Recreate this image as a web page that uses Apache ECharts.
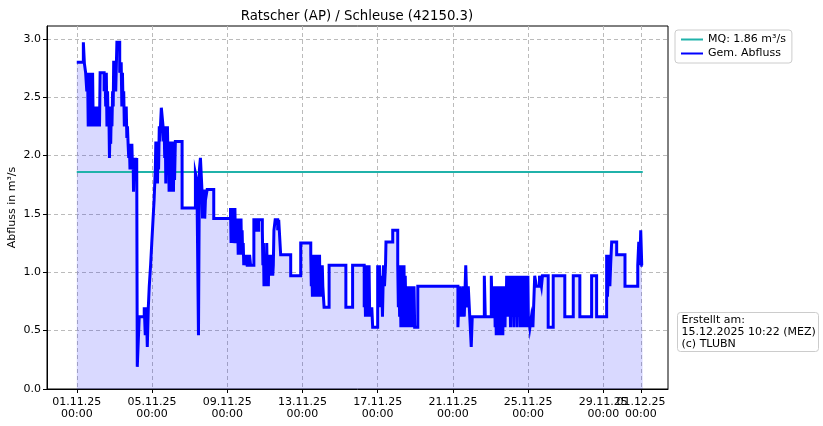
<!DOCTYPE html>
<html>
<head>
<meta charset="utf-8">
<script src="https://cdn.jsdelivr.net/npm/echarts@6/dist/echarts.min.js"></script>
<style>
html,body{margin:0;padding:0;background:#fff;}
#chart{width:823px;height:426px;}
</style>
</head>
<body>
<div id="chart"></div>
<script>
// hours since 01.11.25 00:00 at which each measured value begins
const stepHours = [
0,8.4,9.7,11.3,12.8,13.8,14.6,15.4,16.2,17.0,
17.8,18.6,19.4,20.2,21.0,21.8,22.6,23.4,24.2,25.0,
25.8,26.6,27.4,28.2,29.0,29.8,34.9,36.0,36.9,37.7,
38.5,39.3,40.1,40.9,41.7,42.5,43.3,44.1,44.9,45.7,
46.5,47.1,49.7,51.2,54.8,56.7,57.5,58.3,59.1,59.9,
60.7,61.5,62.3,63.1,63.9,64.7,65.5,66.3,67.1,67.9,
68.7,69.5,70.3,71.1,71.9,72.4,73.4,74.2,75.0,75.8,
76.5,77.2,79.7,86.1,87.4,88.7,90.0,91.3,92.5,94.2,
95.7,97.3,98.7,100.2,100.9,101.6,102.3,103.0,103.7,104.4,
105.3,106.1,106.8,107.9,110.1,110.8,111.5,112.2,112.9,113.6,
114.3,115.0,115.7,116.4,117.1,117.8,118.5,119.2,119.9,120.6,
121.3,122.0,122.7,123.4,124.1,124.8,125.8,134.4,151.4,153.3,
155.3,156.5,157.8,159.7,160.5,161.2,161.9,162.6,163.3,164.2,
166.4,174.8,196.2,196.9,197.6,198.3,199.0,199.7,200.4,201.1,
201.8,202.5,203.2,203.9,204.6,205.3,206.0,206.8,207.5,208.2,
208.9,209.6,210.3,211.0,211.7,212.4,213.1,213.8,214.5,215.4,
216.1,216.8,217.5,220.5,221.8,226.0,229.5,232.1,236.8,237.5,
238.2,238.9,239.6,240.3,241.0,241.7,242.4,243.1,243.8,244.5,
245.2,245.9,246.6,247.3,248.0,248.7,249.4,250.1,250.8,251.6,
253.2,256.4,257.7,260.2,273.0,285.8,298.6,299.3,300.0,300.7,
301.4,302.1,302.8,303.5,304.2,304.9,305.6,306.3,307.0,307.7,
308.4,309.1,309.8,310.5,311.2,311.9,312.6,313.3,314.0,315.6,
322.0,343.4,352.0,366.8,367.5,368.4,369.2,369.9,370.6,371.5,
372.2,373.0,373.8,374.6,375.5,376.5,377.6,384.0,385.0,386.3,
387.6,388.9,390.1,391.4,392.7,394.0,394.6,403.2,409.6,410.4,
411.2,412.0,412.8,413.6,414.4,415.2,416.0,416.8,417.6,418.4,
419.2,420.0,420.8,421.6,422.4,423.2,424.0,424.8,425.6,426.4,
427.2,428.0,428.8,429.6,430.4,431.2,432.0,435.2,486.4,488.4,
490.6,492.5,494.5,496.4,498.0,499.6,501.5,503.4,504.7,520.1,
521.3,529.0,530.3,533.2,533.9,534.6,535.3,536.0,536.7,537.4,
538.1,538.8,539.5,540.2,540.9,541.6,542.3,543.0,543.7,544.4,
545.1,545.8,546.5,547.2,547.9,548.6,549.3,550.0,550.7,551.4,
552.1,552.8,553.5,554.2,554.9,555.6,556.3,557.0,557.7,558.4,
559.1,559.8,560.5,561.2,561.9,562.6,563.3,564.0,564.7,565.4,
566.1,566.8,567.5,568.2,568.9,569.6,570.3,571.0,571.6,572.9,
573.6,574.3,575.0,575.7,576.4,577.1,578.3,580.2,582.1,584.4,
586.6,590.5,593.0,594.3,601.6,608.0,622.8,633.6,642.0,657.0,
663.4,676.2,677.2,678.3,679.3,680.3,681.3,682.6,689.0,699.6,
715.9,717.2,718.5,719.7,721.0,722.3
];
// measured discharge (m³/s), one per entry of stepHours
const flowValues = [
2.80,2.97,2.79,2.71,2.55,2.71,2.25,2.71,2.25,2.71,
2.25,2.55,2.25,2.71,2.25,2.42,2.25,2.42,2.25,2.42,
2.25,2.42,2.25,2.34,2.25,2.71,2.55,2.71,2.42,2.71,
2.25,2.55,2.25,2.42,1.98,2.25,2.10,2.42,2.25,2.55,
2.42,2.80,2.55,2.97,2.71,2.80,2.42,2.71,2.42,2.55,
2.25,2.42,2.25,2.42,2.15,2.25,2.10,1.98,2.10,1.88,
2.10,1.88,2.10,1.88,1.98,1.69,1.98,1.88,1.98,1.88,
1.98,0.19,0.62,0.70,0.46,0.70,0.36,0.70,0.88,1.06,
1.25,1.45,1.62,1.88,2.12,1.88,2.12,1.76,2.12,1.88,
2.25,2.12,2.25,2.41,2.25,2.12,2.25,1.98,2.25,1.76,
2.25,2.10,2.25,1.98,2.12,1.69,2.12,1.69,1.98,1.69,
2.12,1.79,1.98,1.69,2.12,1.79,2.12,1.55,1.85,1.79,
0.46,1.88,1.98,1.71,1.46,1.71,1.46,1.71,1.46,1.62,
1.71,1.46,1.55,1.25,1.55,1.36,1.55,1.25,1.46,1.25,
1.55,1.25,1.46,1.36,1.25,1.46,1.15,1.46,1.15,1.36,
1.15,1.46,1.15,1.36,1.15,1.25,1.06,1.15,1.06,1.15,
1.06,1.15,1.06,1.15,1.06,1.45,1.36,1.45,1.36,1.06,
1.25,0.88,1.15,0.88,1.06,0.88,1.25,0.97,1.06,0.88,
1.15,0.97,1.15,0.97,1.06,0.97,1.15,0.97,1.06,1.36,
1.45,1.36,1.45,1.15,0.97,1.25,1.15,0.88,1.06,0.79,
1.15,0.88,1.06,0.79,1.15,0.88,1.06,0.79,1.15,0.88,
1.06,0.79,1.15,0.79,1.06,0.88,0.79,1.06,0.88,0.70,
1.06,0.70,1.06,0.70,1.06,0.62,1.06,0.62,0.70,1.06,
0.62,1.06,0.62,0.70,0.62,0.70,0.53,1.06,0.88,1.06,
0.70,0.97,0.62,1.06,0.88,1.06,1.26,1.36,1.06,0.70,
1.06,0.62,0.97,0.53,1.06,0.70,0.97,0.53,1.06,0.53,
0.97,0.62,0.88,0.53,0.88,0.53,0.88,0.53,0.88,0.53,
0.88,0.53,0.88,0.53,0.88,0.53,0.53,0.88,0.53,0.88,
0.62,0.88,0.62,1.06,0.70,0.88,0.62,0.36,0.62,0.97,
0.62,0.97,0.62,0.88,0.53,0.88,0.46,0.88,0.53,0.79,
0.46,0.88,0.53,0.88,0.46,0.79,0.53,0.88,0.46,0.88,
0.53,0.79,0.53,0.88,0.62,0.97,0.62,0.97,0.70,0.97,
0.62,0.97,0.53,0.97,0.62,0.97,0.79,0.97,0.53,0.97,
0.62,0.97,0.62,0.97,0.53,0.97,0.62,0.97,0.70,0.97,
0.53,0.97,0.62,0.97,0.53,0.97,0.62,0.97,0.53,0.97,
0.53,0.62,0.53,0.97,0.53,0.62,0.53,0.62,0.53,0.97,
0.88,0.97,0.88,0.97,0.53,0.97,0.62,0.97,0.62,0.97,
0.62,1.15,0.79,0.97,1.15,0.88,1.06,1.26,1.15,0.88,
1.06,1.26,1.06,1.36,1.06,1.06
];
const mqValue = 1.86;
const xTickHours = [0,96,192,288,384,480,576,672];
const xTickLabels = ['01.11.25\n00:00','05.11.25\n00:00','09.11.25\n00:00','13.11.25\n00:00','17.11.25\n00:00','21.11.25\n00:00','25.11.25\n00:00','29.11.25\n00:00'];
const xEndTickHours = [720];
const xEndTickLabels = ['01.12.25\n00:00'];
const yTickValues = [0,0.5,1.0,1.5,2.0,2.5,3.0];

const flowData = stepHours.map((h, i) => [h, flowValues[i]]);
const mqData = [[stepHours[0], mqValue], [stepHours[stepHours.length - 1], mqValue]];

const FONT = 'DejaVu Sans';
const X_MIN = -38, X_MAX = 754.5;
const gridLine = {show: true, lineStyle: {color: '#bbb', type: [4, 3], width: 1}};
const chart = echarts.init(document.getElementById('chart'), null, {renderer: 'canvas'});
chart.setOption({
  animation: false,
  backgroundColor: '#fff',
  textStyle: {fontFamily: FONT},
  title: {
    text: 'Ratscher (AP) / Schleuse (42150.3)',
    left: 352, top: 5, textAlign: 'center',
    textStyle: {fontFamily: FONT, fontSize: 13.3, fontWeight: 'normal', color: '#000'}
  },
  grid: {left: 47, right: 155, top: 26, bottom: 37, show: true, borderColor: '#000', borderWidth: 1,
         backgroundColor: 'transparent', containLabel: false, outerBoundsMode: 'none'},
  legend: {
    orient: 'vertical', left: 675, top: 30,
    data: ['MQ: 1.86 m³/s', 'Gem. Abfluss'],
    itemWidth: 22, itemHeight: 8, itemGap: 3,
    padding: [4, 6, 4, 5],
    borderColor: '#ccc', borderWidth: 1, borderRadius: 3,
    backgroundColor: '#fff',
    itemStyle: {opacity: 0},
    textStyle: {fontFamily: FONT, fontSize: 11, color: '#000'}
  },
  xAxis: [
    {
      type: 'value', min: X_MIN, max: X_MAX, position: 'bottom',
      axisLine: {show: true, onZero: false, lineStyle: {color: '#000'}},
      axisTick: {show: true, length: 4, lineStyle: {color: '#000'}, customValues: xTickHours},
      axisLabel: {
        customValues: xTickHours, hideOverlap: false, color: '#000', fontSize: 11, fontFamily: FONT, lineHeight: 12, margin: 7,
        formatter: v => { const i = xTickHours.indexOf(v); return i >= 0 ? xTickLabels[i] : ''; }
      },
      splitLine: gridLine
    },
    {
      type: 'value', min: X_MIN, max: X_MAX, position: 'bottom', offset: 0,
      axisLine: {show: false, onZero: false},
      axisTick: {show: true, length: 4, lineStyle: {color: '#000'}, customValues: xEndTickHours},
      axisLabel: {
        customValues: xEndTickHours, hideOverlap: false, color: '#000', fontSize: 11, fontFamily: FONT, lineHeight: 12, margin: 7,
        formatter: v => { const i = xEndTickHours.indexOf(v); return i >= 0 ? xEndTickLabels[i] : ''; }
      },
      splitLine: gridLine
    }
  ],
  yAxis: {
    type: 'value', min: 0, max: 3.11, interval: 0.5,
    name: 'Abfluss in m³/s', nameLocation: 'middle', nameGap: 29, nameMoveOverlap: false,
    nameTextStyle: {fontFamily: FONT, fontSize: 11, color: '#000'},
    axisLine: {show: true, onZero: false, lineStyle: {color: '#000'}},
    axisTick: {show: true, length: 4, lineStyle: {color: '#000'}, customValues: yTickValues},
    axisLabel: {customValues: yTickValues, color: '#000', fontSize: 11, fontFamily: FONT, margin: 6,
      formatter: v => v.toFixed(1)},
    splitLine: gridLine
  },
  series: [
    {
      name: 'fill', type: 'line', step: 'end', data: flowData, symbol: 'none', silent: true,
      lineStyle: {width: 0, opacity: 0},
      areaStyle: {color: 'rgba(0,0,255,0.15)', opacity: 1, origin: 0},
      z: 1
    },
    {
      name: 'MQ: 1.86 m³/s', type: 'line', data: mqData, symbol: 'none',
      lineStyle: {color: '#20b2aa', width: 2}, itemStyle: {color: '#20b2aa'}, z: 2
    },
    {
      name: 'Gem. Abfluss', type: 'line', step: 'end', data: flowData, symbol: 'none',
      lineStyle: {color: '#0000ff', width: 3, join: 'miter'}, itemStyle: {color: '#0000ff'}, z: 3
    }
  ],
  graphic: [
    {
      type: 'group', left: 677, top: 312,
      children: [
        {type: 'rect', shape: {x: 0, y: 0, width: 141, height: 39, r: 3},
         style: {fill: '#fff', stroke: '#ccc', lineWidth: 1}},
        {type: 'text', x: 4, y: 2,
         style: {text: 'Erstellt am:\n15.12.2025 10:22 (MEZ)\n(c) TLUBN', fontFamily: FONT, fontSize: 11, lineHeight: 12, fill: '#000'}}
      ]
    }
  ]
});
</script>
</body>
</html>
